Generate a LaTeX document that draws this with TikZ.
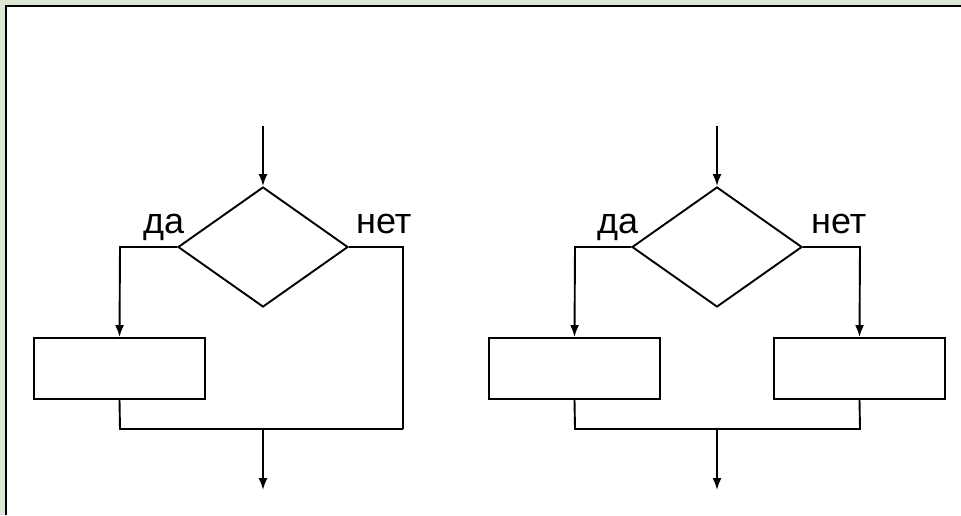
\documentclass[tikz,border=0pt]{standalone}
\usepackage{fontspec}
\setmainfont{Liberation Sans}
\usetikzlibrary{shapes.geometric,arrows.meta}
\definecolor{bggreen}{RGB}{220,232,212}
\tikzset{
  cond/.style={diamond,draw,line width=1.9pt,aspect=1.42,minimum width=170pt,minimum height=120pt,inner sep=0pt},
  proc/.style={rectangle,draw,line width=1.9pt,minimum width=171pt,minimum height=61pt,inner sep=0pt},
  conn/.style={line width=1.9pt},
  arr/.style={line width=1.9pt,-{Latex[length=12pt,width=9pt]}},
  lbl/.style={font=\fontsize{36}{36}\selectfont,inner sep=0pt,anchor=base west}
}
\begin{document}
\begin{tikzpicture}[x=1pt,y=-1pt]
\useasboundingbox (0,0) rectangle (961,515);
\fill[bggreen] (0,0) rectangle (961,515);
\fill[white] (6,6) rectangle (961,515);
\draw[line width=2.4pt] (6,515) -- (6,6) -- (961,6);

% left diagram
\coordinate (Lin) at (263,126);
\node[cond] (Ld) at (263,247) {};
\node[proc] (Lb) at (119.5,368.5) {};
\coordinate (Lc1) at (120,247);
\coordinate (Lc2) at (403,247);
\coordinate (Lj1) at (120,429);
\coordinate (Lj2) at (403,429);
\coordinate (Lm) at (263,429);
\coordinate (Lout) at (263,490);
\draw[arr] (Lin) -- (Ld.north);
\draw[arr] (Ld.west) -- (Lc1) -- (Lb.north);
\draw[conn] (Ld.east) -- (Lc2) -- (Lj2);
\draw[conn] (Lb.south) -- (Lj1) -- (Lj2);
\draw[arr] (Lm) -- (Lout);
\node[lbl] (Lyes) at (143,233) {да};
\node[lbl] (Lno) at (356,233) {нет};

% right diagram
\coordinate (Rin) at (717,126);
\node[cond] (Rd) at (717,247) {};
\node[proc] (Rb1) at (574.5,368.5) {};
\node[proc] (Rb2) at (859.5,368.5) {};
\coordinate (Rc1) at (575,247);
\coordinate (Rc2) at (860,247);
\coordinate (Rj1) at (575,429);
\coordinate (Rj2) at (860,429);
\coordinate (Rm) at (717,429);
\coordinate (Rout) at (717,490);
\draw[arr] (Rin) -- (Rd.north);
\draw[arr] (Rd.west) -- (Rc1) -- (Rb1.north);
\draw[arr] (Rd.east) -- (Rc2) -- (Rb2.north);
\draw[conn] (Rb1.south) -- (Rj1) -- (Rj2) -- (Rb2.south);
\draw[arr] (Rm) -- (Rout);
\node[lbl] (Ryes) at (597,233) {да};
\node[lbl] (Rno) at (811,233) {нет};
\end{tikzpicture}
\end{document}
